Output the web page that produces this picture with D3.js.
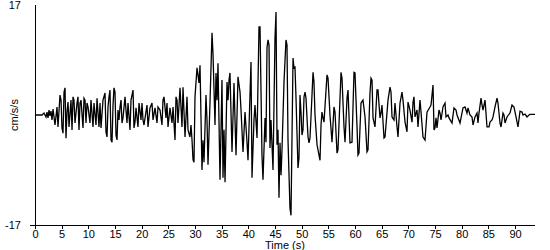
<!DOCTYPE html>
<html>
<head>
<meta charset="utf-8">
<script src="https://cdn.jsdelivr.net/npm/d3@7"></script>
<style>
  html, body { margin: 0; padding: 0; background: #fff; }
  svg { display: block; }
  text { font-family: "Liberation Sans", Arial, sans-serif; font-size: 11px; fill: #000; }
</style>
</head>
<body>
<svg id="chart" width="550" height="250"></svg>
<script>
// Time (s) of each vertex of the record
const times = [0,1.31,1.69,2.06,2.25,2.44,2.63,2.81,3.0,3.19,3.38,3.75,4.13,4.31,4.69,4.88,5.06,5.25,5.44,5.63,5.81,6.0,6.19,6.38,6.75,6.94,7.13,7.31,7.5,7.88,8.06,8.25,8.44,8.63,9.0,9.19,9.38,9.56,9.75,
9.94,10.31,10.5,10.88,11.06,11.44,11.63,12.0,12.19,12.38,12.75,13.13,13.31,13.5,13.69,13.88,14.06,14.25,14.44,14.63,14.81,15.0,15.19,15.38,15.56,15.75,15.94,16.13,16.31,16.5,16.88,17.06,17.25,17.44,17.81,18.0,18.38,18.56,18.75,18.94,19.31,19.5,19.88,
20.06,20.25,20.44,21.0,21.19,21.56,21.94,22.13,22.5,22.88,23.06,23.44,23.81,24.0,24.19,24.56,24.75,24.94,25.31,25.69,25.88,26.25,26.44,26.63,26.81,27.19,27.56,27.75,28.13,28.5,28.69,29.06,29.25,29.44,29.63,29.81,30.0,30.38,30.56,30.75,30.94,
31.31,31.5,31.69,32.06,32.25,32.44,32.81,33.19,33.38,33.75,33.94,34.13,34.31,34.69,35.06,35.25,35.44,35.63,36.0,36.19,36.38,36.56,36.94,37.31,37.69,38.06,38.44,38.63,39.0,39.38,39.75,39.94,40.5,40.69,41.06,41.25,41.63,42.0,42.19,42.56,42.75,43.13,
43.31,43.5,43.69,43.88,44.06,44.25,44.63,45.0,45.19,45.38,45.56,45.75,45.94,46.13,46.31,46.69,47.06,47.25,47.44,47.81,48.0,48.38,48.56,48.75,48.94,49.31,49.5,49.69,49.88,50.06,50.25,50.44,50.63,50.81,51.19,51.38,51.56,51.75,52.13,52.31,52.5,52.88,53.44,53.63,53.81,54.0,54.19,54.75,54.94,55.31,55.69,
56.06,56.25,56.63,56.81,57.38,57.56,57.94,58.13,58.5,58.69,59.06,59.44,59.81,60.0,60.38,60.56,60.75,61.13,61.5,61.88,62.25,62.44,62.81,63.0,63.19,63.38,63.75,64.13,64.31,64.69,64.88,65.06,65.44,65.63,66.19,66.56,66.75,66.94,67.31,67.5,67.88,68.06,68.44,68.81,69.0,69.38,69.75,69.94,70.31,70.69,70.88,71.06,71.25,71.63,71.81,72.19,72.38,72.75,73.13,73.5,74.06,74.25,74.63,74.81,
75.0,75.19,75.38,75.75,75.94,76.13,76.5,76.88,77.06,77.44,77.63,78.19,78.56,78.94,79.13,79.69,80.25,80.63,81.0,81.19,81.56,81.94,82.13,82.5,82.88,83.06,83.25,83.63,83.81,84.0,84.38,84.75,85.13,85.31,85.69,85.88,86.25,86.63,86.81,87.19,87.38,87.75,87.94,88.13,88.5,89.06,89.44,89.81,90.19,90.56,90.94,91.31,91.5,91.88,92.25,92.63,92.81,93.75];

// Acceleration (cm/s/s) at each vertex
const accel = [0,0,0.3,-0.3,0.45,-0.45,0.77,-0.15,0.6,-0.77,0.9,-1.55,1.24,-1.85,3.09,2.3,-2.0,-2.8,3.55,4.2,-3.6,0.5,2.0,-1.85,2.3,-2.3,2.8,2.3,-1.24,1.85,2.8,-2.3,1.85,2.3,-2.0,2.6,2.3,-1.24,1.85,
1.24,-1.24,2.3,-1.85,1.85,-1.55,2.6,-1.85,1.85,-2.0,2.3,3.4,-2.6,-3.4,1.24,2.8,3.86,-3.86,-4.2,1.55,4.2,3.55,-3.1,-3.86,0.77,-0.77,1.24,2.3,-1.24,-0.45,2.8,0.77,-1.24,1.85,-2.3,2.3,3.86,-2.0,-1.1,1.1,-1.85,1.85,-0.77,
1.85,-0.77,-1.55,1.55,-1.85,1.1,1.85,-0.77,1.1,-1.24,1.24,0.77,-1.55,2.3,2.8,-0.45,1.85,-1.85,1.1,-1.24,1.24,-3.86,2.8,2.3,-1.24,4.2,-1.85,4.3,-3.4,2.8,-2.3,-3.4,-1.55,-3.86,-6.95,-7.3,2.8,7.3,6.2,4.95,7.7,
-8.5,-3.9,-7.3,3.1,-0.77,-7.7,1.85,12.7,9.3,-1.55,6.5,2.3,8.0,-10.0,5.4,-9.7,-2.3,-10.4,5.1,2.3,5.4,6.5,-5.7,4.95,-6.2,5.9,3.55,0.77,-5.7,0.45,-4.2,-7.0,8.2,-9.7,-0.77,1.55,-3.55,13.6,13.6,-6.2,-10.0,-0.45,
-4.2,10.4,11.6,10.8,-5.1,-0.77,-8.5,11.9,15.9,-4.6,-2.3,-12.8,-4.3,-9.3,-5.4,5.1,11.6,10.8,-3.9,-14.4,-15.5,8.8,7.3,7.4,2.6,-8.2,-6.6,3.1,0.3,-3.1,-2.3,2.8,3.55,2.6,-3.4,-4.3,-3.55,-0.3,6.6,5.1,0,-4.6,-7.0,-1.55,0.45,-0.45,-1.1,6.2,5.7,0,-4.2,
1.24,0.45,-5.9,-5.4,6.6,5.7,-1.85,-4.2,2.6,3.86,-4.3,-4.2,6.6,6.5,-1.85,-6.2,-5.9,1.85,2.3,-0.3,-5.7,-5.4,3.4,5.7,5.4,-0.45,-1.85,3.86,3.86,-0.45,0.3,1.55,-3.55,-3.4,2.3,4.3,3.55,-0.3,-0.77,1.85,-1.85,-3.4,1.85,3.55,2.3,-1.1,-2.6,2.0,0.77,-1.1,2.0,2.8,-0.3,0.77,-1.85,2.3,0.45,-3.4,-3.86,0.45,1.24,1.55,4.64,-2.3,
-2.0,-0.45,-2.0,0.77,0.3,-0.77,1.24,1.85,-0.3,0,-0.45,-1.24,1.1,0.77,0,-1.24,1.1,1.24,0.3,1.1,0,-0.3,-1.55,-0.3,0.3,-1.24,0.3,2.6,1.55,0.77,2.3,-1.85,-1.85,-1.1,-0.77,-0.3,1.24,2.6,1.85,-1.24,-1.85,0.3,0,-1.24,-0.3,0.3,1.55,1.24,-0.3,-1.85,0.6,0.45,0,0.15,-0.3,0,0.1,0.1];

const xTicks = [0,5,10,15,20,25,30,35,40,45,50,55,60,65,70,75,80,85,90];
const yLabels = [17, -17];
const xTitle = "Time (s)";
const yTitle = "cm/s/s";

const svg = d3.select("#chart");
const x = d3.scaleLinear().domain([0, 93.75]).range([35, 535]);
const y = d3.scaleLinear().domain([-17, 17]).range([225, 5]);

// x axis
const xAxis = d3.axisBottom(x).tickValues(xTicks).tickSize(3).tickSizeOuter(0).tickPadding(2);
const gx = svg.append("g").attr("transform", "translate(0,225.5)").call(xAxis);
gx.select(".domain").remove();
gx.selectAll(".tick line").attr("stroke", "#000").attr("shape-rendering", "crispEdges");
gx.selectAll(".tick text").style("font-family", '"Liberation Sans", Arial, sans-serif').style("font-size", "11px").attr("fill", "#000");
svg.append("line").attr("x1", 30).attr("x2", 535).attr("y1", 225.5).attr("y2", 225.5)
  .attr("stroke", "#000").attr("shape-rendering", "crispEdges");

// y axis
svg.append("line").attr("x1", 35.5).attr("x2", 35.5).attr("y1", y(17)).attr("y2", y(-17))
  .attr("stroke", "#000").attr("shape-rendering", "crispEdges");
svg.selectAll(".ylab").data(yLabels).enter().append("text")
  .attr("class", "ylab")
  .attr("x", 21).attr("y", d => y(d) + 4)
  .attr("text-anchor", "end")
  .text(d => d);

// titles
svg.append("text").attr("x", 285).attr("y", 249).attr("text-anchor", "middle").text(xTitle);
svg.append("text").attr("transform", "translate(18,115) rotate(-90)").attr("text-anchor", "middle").text(yTitle);

// trace
const data = times.map((t, i) => [t, accel[i]]);
const line = d3.line().x(d => x(d[0])).y(d => y(d[1]));
svg.append("path").datum(data).attr("d", line)
  .attr("fill", "none").attr("stroke", "#000").attr("stroke-width", 1.3)
  .attr("stroke-linejoin", "miter");
</script>
</body>
</html>
